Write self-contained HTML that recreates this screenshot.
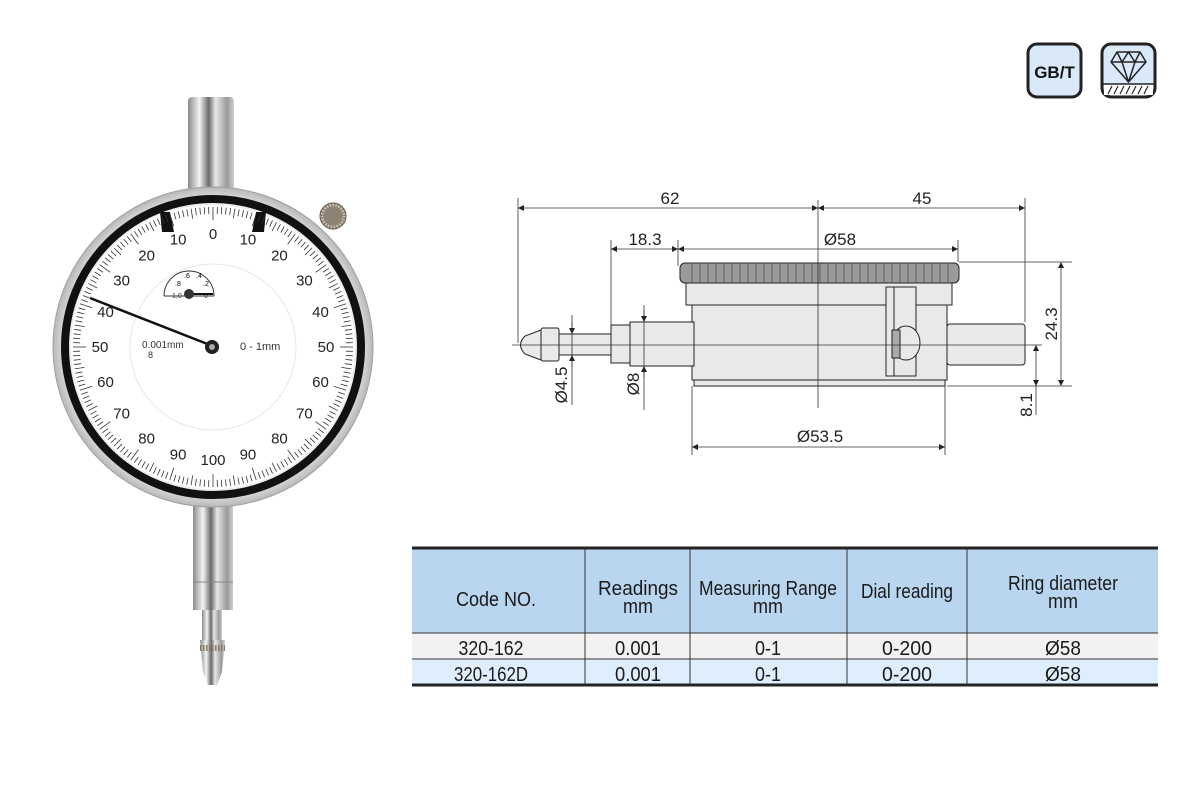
<!DOCTYPE html>
<html><head><meta charset="utf-8"><style>
html,body{margin:0;padding:0;background:#fff;}
body{width:1200px;height:800px;position:relative;overflow:hidden;font-family:"Liberation Sans",sans-serif;}
svg{position:absolute;left:0;top:0;}
</style></head><body>
<svg width="1200" height="800" viewBox="0 0 1200 800" font-family="Liberation Sans, sans-serif">
<defs>
<linearGradient id="metal" x1="0" x2="1" y1="0" y2="0">
<stop offset="0" stop-color="#8a8a8a"/><stop offset="0.25" stop-color="#f4f4f4"/><stop offset="0.45" stop-color="#6a6a6a"/><stop offset="0.6" stop-color="#e8e8e8"/><stop offset="0.85" stop-color="#9a9a9a"/><stop offset="1" stop-color="#cfcfcf"/>
</linearGradient>
<radialGradient id="bez" cx="0.5" cy="0.5" r="0.5">
<stop offset="0.9" stop-color="#eeeeee"/><stop offset="1" stop-color="#b8b8b8"/>
</radialGradient>
<marker id="ar" viewBox="0 0 10 10" refX="10" refY="5" markerWidth="9" markerHeight="6" orient="auto-start-reverse" markerUnits="userSpaceOnUse"><path d="M0,0 L10,5 L0,10 z" fill="#222"/></marker>
</defs>

<!-- ===== Gauge ===== -->
<rect x="188" y="97" width="46" height="95" rx="4" fill="url(#metal)"/>
<rect x="193" y="505" width="40" height="105" fill="url(#metal)"/>
<line x1="193" y1="582" x2="233" y2="582" stroke="#888"/>
<rect x="202" y="610" width="20" height="32" fill="url(#metal)"/>
<path d="M200,640 L225,640 L222,672 L217,685 L208,685 L203,672 Z" fill="url(#metal)"/>
<line x1="200" y1="648" x2="225" y2="648" stroke="#8a7a60" stroke-width="6" stroke-dasharray="1.5 1.5"/>
<circle cx="333" cy="216" r="13" fill="#8d8372" stroke="#5a5348"/>
<circle cx="333" cy="216" r="11" fill="none" stroke="#c8c0b0" stroke-width="3" stroke-dasharray="1.5 1.5"/>
<circle cx="213" cy="347" r="160" fill="url(#bez)" stroke="#a0a0a0"/>
<circle cx="213" cy="347" r="148" fill="none" stroke="#111" stroke-width="8"/>
<circle cx="213" cy="347" r="142" fill="#fff"/>
<path d="M160,212 L170,212 L174,232 L162,232 Z" fill="#111"/>
<path d="M256,212 L266,212 L264,232 L252,232 Z" fill="#111"/>
<g id="ticks" stroke="#333" stroke-width="0.8"></g>
<circle cx="213" cy="347" r="83" fill="none" stroke="#e6e6e6"/>
<g font-size="15" fill="#222" text-anchor="middle" id="nums"></g>
<!-- small dial -->
<path d="M164,296 A25,25 0 0 1 214,296" fill="none" stroke="#333"/>
<line x1="164" y1="296" x2="214" y2="296" stroke="#333"/>
<text x="172" y="298" font-size="7" fill="#333">1,0</text>
<text x="204" y="298" font-size="7" fill="#333">0</text>
<text x="175" y="286" font-size="7">.8</text><text x="184" y="278" font-size="7">.6</text><text x="196" y="278" font-size="7">.4</text><text x="203" y="286" font-size="7">.2</text>
<line x1="189" y1="294" x2="213" y2="294" stroke="#111" stroke-width="2"/>
<circle cx="189" cy="294" r="5" fill="#333"/>
<text x="142" y="348" font-size="10" fill="#333">0.001mm</text>
<text x="148" y="358" font-size="9" fill="#333">8</text>
<text x="240" y="350" font-size="11" fill="#333">0 - 1mm</text>
<line x1="90" y1="298" x2="210" y2="345" stroke="#111" stroke-width="2.5"/>
<circle cx="212" cy="347" r="7" fill="#222"/>
<circle cx="212" cy="347" r="3" fill="#aaa"/>

<!-- ===== Technical drawing ===== -->
<g stroke="#222" stroke-width="1" fill="none">
<rect x="680" y="263" width="279" height="20" rx="5" fill="#9a9a9a"/>
<rect x="686" y="283" width="266" height="22" fill="#e9e9e9"/>
<rect x="692" y="305" width="255" height="75" fill="#e9e9e9"/>
<rect x="694" y="380" width="251" height="6" fill="#e9e9e9"/>
<rect x="886" y="287" width="30" height="89" fill="#e9e9e9"/>
<line x1="894" y1="287" x2="894" y2="376"/>
<ellipse cx="906" cy="343" rx="14" ry="17" fill="#e9e9e9"/>
<rect x="892" y="330" width="8" height="28" fill="#aaa"/>
<rect x="947" y="324" width="78" height="41" rx="3" fill="#e9e9e9"/>
<rect x="630" y="322" width="64" height="44" fill="#e9e9e9"/>
<rect x="611" y="325" width="19" height="38" fill="#e9e9e9"/>
<rect x="559" y="334" width="52" height="21" fill="#e9e9e9"/>
<rect x="541" y="328" width="18" height="33" rx="2" fill="#e9e9e9"/>
<path d="M541,330 L525,336 Q516,345 525,354 L541,360 Z" fill="#e9e9e9"/>
</g>
<g stroke="#333" stroke-width="0.6">
<line x1="692" y1="264" x2="692" y2="282"/><line x1="700" y1="264" x2="700" y2="282"/><line x1="708" y1="264" x2="708" y2="282"/><line x1="716" y1="264" x2="716" y2="282"/><line x1="724" y1="264" x2="724" y2="282"/><line x1="732" y1="264" x2="732" y2="282"/><line x1="740" y1="264" x2="740" y2="282"/><line x1="748" y1="264" x2="748" y2="282"/><line x1="756" y1="264" x2="756" y2="282"/><line x1="764" y1="264" x2="764" y2="282"/><line x1="772" y1="264" x2="772" y2="282"/><line x1="780" y1="264" x2="780" y2="282"/><line x1="788" y1="264" x2="788" y2="282"/><line x1="796" y1="264" x2="796" y2="282"/><line x1="804" y1="264" x2="804" y2="282"/><line x1="812" y1="264" x2="812" y2="282"/><line x1="820" y1="264" x2="820" y2="282"/><line x1="828" y1="264" x2="828" y2="282"/><line x1="836" y1="264" x2="836" y2="282"/><line x1="844" y1="264" x2="844" y2="282"/><line x1="852" y1="264" x2="852" y2="282"/><line x1="860" y1="264" x2="860" y2="282"/><line x1="868" y1="264" x2="868" y2="282"/><line x1="876" y1="264" x2="876" y2="282"/><line x1="884" y1="264" x2="884" y2="282"/><line x1="892" y1="264" x2="892" y2="282"/><line x1="900" y1="264" x2="900" y2="282"/><line x1="908" y1="264" x2="908" y2="282"/><line x1="916" y1="264" x2="916" y2="282"/><line x1="924" y1="264" x2="924" y2="282"/><line x1="932" y1="264" x2="932" y2="282"/><line x1="940" y1="264" x2="940" y2="282"/><line x1="948" y1="264" x2="948" y2="282"/>
</g>
<g stroke="#333" stroke-width="0.8" fill="none">
<line x1="512" y1="345" x2="1042" y2="345"/>
<line x1="818" y1="200" x2="818" y2="408"/>
<line x1="518" y1="198" x2="518" y2="343"/>
<line x1="1025" y1="198" x2="1025" y2="322"/>
<line x1="611" y1="240" x2="611" y2="325"/>
<line x1="678" y1="240" x2="678" y2="266"/>
<line x1="958" y1="240" x2="958" y2="262"/>
<line x1="959" y1="262" x2="1072" y2="262"/>
<line x1="947" y1="386" x2="1072" y2="386"/>
<line x1="692" y1="386" x2="692" y2="455"/>
<line x1="945" y1="386" x2="945" y2="455"/>
<line x1="572" y1="315" x2="572" y2="405"/>
<line x1="644" y1="305" x2="644" y2="410"/>
<line x1="1036" y1="386" x2="1036" y2="415"/>
<line x1="518" y1="208" x2="818" y2="208" marker-start="url(#ar)" marker-end="url(#ar)"/>
<line x1="818" y1="208" x2="1025" y2="208" marker-start="url(#ar)" marker-end="url(#ar)"/>
<line x1="611" y1="249" x2="678" y2="249" marker-start="url(#ar)" marker-end="url(#ar)"/>
<line x1="678" y1="249" x2="958" y2="249" marker-start="url(#ar)" marker-end="url(#ar)"/>
<line x1="692" y1="447" x2="945" y2="447" marker-start="url(#ar)" marker-end="url(#ar)"/>
<line x1="1061" y1="262" x2="1061" y2="386" marker-start="url(#ar)" marker-end="url(#ar)"/>
<line x1="1036" y1="345" x2="1036" y2="386" marker-start="url(#ar)" marker-end="url(#ar)"/>
<line x1="572" y1="322" x2="572" y2="334" marker-end="url(#ar)"/>
<line x1="572" y1="367" x2="572" y2="355" marker-end="url(#ar)"/>
<line x1="644" y1="310" x2="644" y2="322" marker-end="url(#ar)"/>
<line x1="644" y1="378" x2="644" y2="366" marker-end="url(#ar)"/>
</g>
<g font-size="17" fill="#222" text-anchor="middle">
<text x="670" y="204">62</text>
<text x="922" y="204">45</text>
<text x="645" y="245">18.3</text>
<text x="840" y="245">Ø58</text>
<text x="820" y="442">Ø53.5</text>
<text transform="translate(1057,324) rotate(-90)">24.3</text>
<text transform="translate(1032,405) rotate(-90)">8.1</text>
<text transform="translate(567,385) rotate(-90)">Ø4.5</text>
<text transform="translate(639,384) rotate(-90)">Ø8</text>
</g>

<!-- ===== Icons ===== -->
<rect x="1028" y="44" width="53" height="53" rx="9" fill="#d9e9fa" stroke="#222" stroke-width="3"/>
<text x="1054.5" y="78" font-size="17" font-weight="bold" text-anchor="middle" fill="#111">GB/T</text>
<rect x="1102" y="44" width="53" height="53" rx="9" fill="#d9e9fa" stroke="#222" stroke-width="3"/>
<rect x="1104" y="84" width="49" height="11" fill="#fff"/>
<line x1="1103" y1="84" x2="1154" y2="84" stroke="#222" stroke-width="1.5"/>
<g stroke="#222" stroke-width="1.2"><line x1="1108" y1="94" x2="1112" y2="86"/><line x1="1114" y1="94" x2="1118" y2="86"/><line x1="1120" y1="94" x2="1124" y2="86"/><line x1="1126" y1="94" x2="1130" y2="86"/><line x1="1132" y1="94" x2="1136" y2="86"/><line x1="1138" y1="94" x2="1142" y2="86"/><line x1="1144" y1="94" x2="1148" y2="86"/></g>
<g stroke="#222" stroke-width="1.5" fill="none" stroke-linejoin="round">
<path d="M1117,52 L1140,52 L1146,62 L1128.5,82 L1111,62 Z"/>
<line x1="1111" y1="62" x2="1146" y2="62"/>
<path d="M1117,52 L1122,62 L1128.5,52 L1135,62 L1140,52"/>
<path d="M1122,62 L1128.5,82 L1135,62"/>
</g>

<!-- ===== Table ===== -->
<rect x="412" y="548" width="746" height="85" fill="#b9d5f0"/>
<rect x="412" y="633" width="746" height="26" fill="#f2f2f2"/>
<rect x="412" y="659" width="746" height="26" fill="#deeefc"/>
<line x1="412" y1="548" x2="1158" y2="548" stroke="#222" stroke-width="3"/>
<line x1="412" y1="633" x2="1158" y2="633" stroke="#333" stroke-width="1"/>
<line x1="412" y1="659" x2="1158" y2="659" stroke="#333" stroke-width="1"/>
<line x1="412" y1="685" x2="1158" y2="685" stroke="#222" stroke-width="3"/>
<g stroke="#333" stroke-width="1">
<line x1="585" y1="549" x2="585" y2="685"/><line x1="690" y1="549" x2="690" y2="685"/><line x1="847" y1="549" x2="847" y2="685"/><line x1="967" y1="549" x2="967" y2="685"/>
</g>
<g font-size="20" fill="#1a1a1a" text-anchor="middle">
<text x="496" y="606" textLength="80" lengthAdjust="spacingAndGlyphs">Code NO.</text>
<text x="638" y="595" textLength="80" lengthAdjust="spacingAndGlyphs">Readings</text>
<text x="638" y="613" textLength="30" lengthAdjust="spacingAndGlyphs">mm</text>
<text x="768" y="595" textLength="138" lengthAdjust="spacingAndGlyphs">Measuring Range</text>
<text x="768" y="613" textLength="30" lengthAdjust="spacingAndGlyphs">mm</text>
<text x="907" y="598" textLength="92" lengthAdjust="spacingAndGlyphs">Dial reading</text>
<text x="1063" y="590" textLength="110" lengthAdjust="spacingAndGlyphs">Ring diameter</text>
<text x="1063" y="608" textLength="30" lengthAdjust="spacingAndGlyphs">mm</text>
<text x="491" y="655" textLength="65" lengthAdjust="spacingAndGlyphs">320-162</text>
<text x="638" y="655" textLength="46" lengthAdjust="spacingAndGlyphs">0.001</text>
<text x="768" y="655" textLength="26" lengthAdjust="spacingAndGlyphs">0-1</text>
<text x="907" y="655" textLength="50" lengthAdjust="spacingAndGlyphs">0-200</text>
<text x="1063" y="655" textLength="36" lengthAdjust="spacingAndGlyphs">Ø58</text>
<text x="491" y="681" textLength="74" lengthAdjust="spacingAndGlyphs">320-162D</text>
<text x="638" y="681" textLength="46" lengthAdjust="spacingAndGlyphs">0.001</text>
<text x="768" y="681" textLength="26" lengthAdjust="spacingAndGlyphs">0-1</text>
<text x="907" y="681" textLength="50" lengthAdjust="spacingAndGlyphs">0-200</text>
<text x="1063" y="681" textLength="36" lengthAdjust="spacingAndGlyphs">Ø58</text>
</g>
</svg>
<script>
(function(){
var ns="http://www.w3.org/2000/svg",cx=213,cy=347;
var g=document.getElementById("ticks");
for(var i=0;i<200;i++){
 var a=i*1.8*Math.PI/180, L=(i%10==0)?13:(i%5==0?10:7);
 var r1=140,r2=r1-L;
 var l=document.createElementNS(ns,"line");
 l.setAttribute("x1",cx+r1*Math.sin(a));l.setAttribute("y1",cy-r1*Math.cos(a));
 l.setAttribute("x2",cx+r2*Math.sin(a));l.setAttribute("y2",cy-r2*Math.cos(a));
 g.appendChild(l);
}
var n=document.getElementById("nums");
for(var k=0;k<20;k++){
 var v=k<=10?k*10:(20-k)*10, a=k*18*Math.PI/180, r=113;
 var t=document.createElementNS(ns,"text");
 t.setAttribute("x",cx+r*Math.sin(a));t.setAttribute("y",cy-r*Math.cos(a)+5);
 t.textContent=v;n.appendChild(t);
}
})();
</script>
</body></html>
